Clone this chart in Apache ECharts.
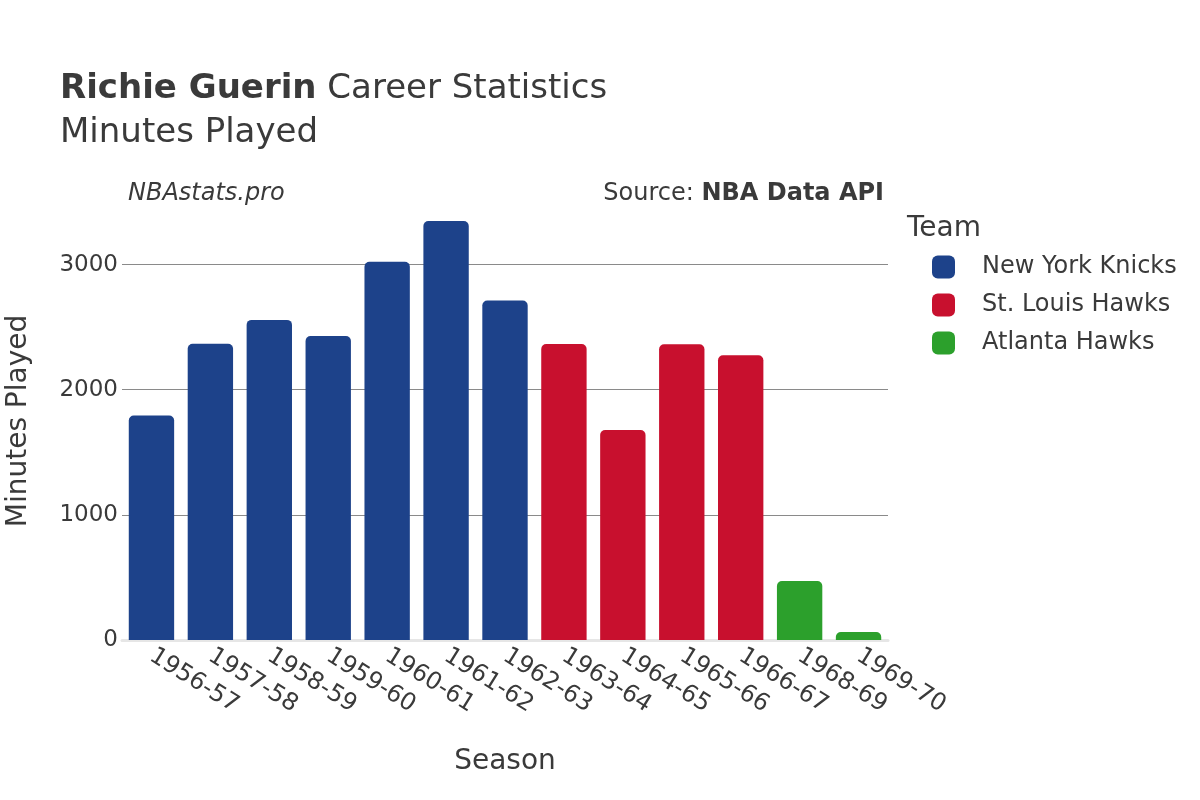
<!DOCTYPE html>
<html>
<head>
<meta charset="utf-8">
<script src="https://cdn.jsdelivr.net/npm/echarts@6/dist/echarts.min.js"></script>
<style>html,body{margin:0;padding:0;background:#fff}#c{width:1200px;height:800px}</style>
</head>
<body>
<div id="c"></div>
<script>
const seasons = ["1956-57","1957-58","1958-59","1959-60","1960-61","1961-62","1962-63","1963-64","1964-65","1965-66","1966-67","1968-69","1969-70"];
const teamOfSeason = ["New York Knicks","New York Knicks","New York Knicks","New York Knicks","New York Knicks","New York Knicks","New York Knicks","St. Louis Hawks","St. Louis Hawks","St. Louis Hawks","St. Louis Hawks","Atlanta Hawks","Atlanta Hawks"];
const minutes = [1793, 2368, 2558, 2429, 3023, 3348, 2712, 2366, 1678, 2363, 2275, 472, 64];
const teams = ["New York Knicks","St. Louis Hawks","Atlanta Hawks"];
const teamColors = ["#1d428a","#c8102e","#2ca02c"];
const yTicks = [0, 1000, 2000, 3000];

const FONT = "DejaVu Sans";
const chart = echarts.init(document.getElementById('c'), null, {renderer: 'canvas'});

const series = teams.map((t, i) => ({
  name: t,
  type: 'bar',
  stack: 'all',
  barWidth: '77%',
  itemStyle: {color: teamColors[i], borderRadius: [5,5,0,0]},
  data: minutes.map((v, k) => teamOfSeason[k] === t ? v : null)
}));

chart.setOption({
  animation: false,
  textStyle: {fontFamily: FONT},
  title: [
    {left: 55, top: 67, text: '{b|Richie Guerin}{n| Career Statistics}',
     textStyle: {fontWeight: 'normal', fontSize: 34, rich: {b: {fontFamily: FONT, fontSize: 34, fontWeight: 'bold', color: '#3a3a3a'}, n: {fontFamily: FONT, fontSize: 34, fontWeight: 'normal', color: '#3a3a3a'}}}},
    {left: 55, top: 111, text: 'Minutes Played', textStyle: {fontFamily: FONT, fontSize: 34, fontWeight: 'normal', color: '#3a3a3a'}},
    {left: 123, top: 177, text: 'NBAstats.pro', textStyle: {fontFamily: FONT, fontSize: 24, fontStyle: 'italic', fontWeight: 'normal', color: '#3a3a3a'}},
    {right: 311, top: 177, text: '{n|Source: }{b|NBA Data API}',
     textStyle: {fontWeight: 'normal', fontSize: 24, rich: {b: {fontFamily: FONT, fontSize: 24, fontWeight: 'bold', color: '#3a3a3a'}, n: {fontFamily: FONT, fontSize: 24, fontWeight: 'normal', color: '#3a3a3a'}}}},
    {left: 902, top: 210, text: 'Team', textStyle: {fontFamily: FONT, fontSize: 28, fontWeight: 'normal', color: '#3a3a3a'}}
  ],
  legend: {
    orient: 'vertical',
    left: 927,
    top: 250,
    icon: 'roundRect',
    itemWidth: 23,
    itemHeight: 23,
    itemGap: 14,
    textStyle: {fontFamily: FONT, fontSize: 24, color: '#3a3a3a', padding: [0,0,0,22]},
    data: teams
  },
  grid: {left: 122, right: 312, top: 202, bottom: 160, containLabel: false, outerBoundsMode: 'none'},
  xAxis: {
    type: 'category',
    data: seasons,
    name: 'Season',
    nameLocation: 'middle',
    nameGap: 108,
    nameTextStyle: {fontFamily: FONT, fontSize: 28, color: '#3a3a3a'},
    axisLine: {show: true, lineStyle: {color: '#e6e6e6', width: 3}},
    axisTick: {show: false},
    axisLabel: {rotate: -32, fontFamily: FONT, fontSize: 24, color: '#3a3a3a', margin: 14, interval: 0}
  },
  yAxis: {
    type: 'value',
    min: 0,
    max: 3500,
    interval: 1000,
    name: 'Minutes Played',
    nameLocation: 'middle',
    nameGap: 89,
    nameTextStyle: {fontFamily: FONT, fontSize: 28, color: '#3a3a3a'},
    axisLine: {show: false},
    axisTick: {show: false},
    axisLabel: {fontFamily: FONT, fontSize: 23, color: '#3a3a3a', margin: 4,
      formatter: v => yTicks.includes(v) ? String(v) : ''},
    splitLine: {showMaxLine: false, lineStyle: {color: '#8a8a8a', width: 1}}
  },
  series: series
});
</script>
</body>
</html>
